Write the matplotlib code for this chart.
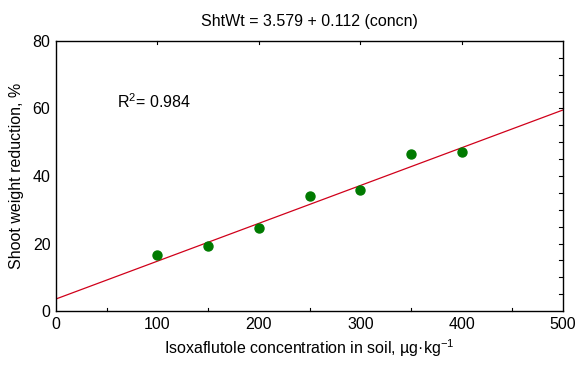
import matplotlib.pyplot as plt
import numpy as np
from matplotlib.ticker import MultipleLocator

plt.rcParams['font.family'] = ['Liberation Sans', 'DejaVu Sans']
plt.rcParams['mathtext.fontset'] = 'custom'
plt.rcParams['mathtext.rm'] = 'Liberation Sans'
plt.rcParams['mathtext.it'] = 'Liberation Sans:italic'

concn = [100, 150, 200, 250, 300, 350, 400]
shoot_wt = [16.6, 19.3, 24.6, 34.1, 35.9, 46.5, 47.1]

intercept = 3.579
slope = 0.112
line_x = np.array([0, 500])

fig = plt.figure(figsize=(5.83, 3.69), dpi=100)
ax = fig.add_axes([0.096, 0.157, 0.870, 0.732])

ax.plot(line_x, intercept + slope * line_x, color='#d0001a', lw=0.9)
ax.scatter(concn, shoot_wt, s=42, color='#007a00', zorder=3)

ax.set_xlim(0, 500)
ax.set_ylim(0, 80)
ax.xaxis.set_major_locator(MultipleLocator(100))
ax.yaxis.set_major_locator(MultipleLocator(20))
ax.tick_params(axis='both', which='major', length=0, labelsize=11.5, pad=4)

# small inward ticks: bottom at 50s, top at 100s, right every 5
for x in np.arange(50, 500, 100):
    ax.plot([x, x], [0, 0.8], color='k', lw=0.8, clip_on=False)
for x in np.arange(100, 500, 100):
    ax.plot([x, x], [80, 79.2], color='k', lw=0.8, clip_on=False)
for y in np.arange(5, 80, 5):
    ax.plot([500, 496], [y, y], color='k', lw=0.8, clip_on=False)

for s in ax.spines.values():
    s.set_linewidth(1.0)

ax.set_title('ShtWt = 3.579 + 0.112 (concn)', fontsize=11.5, pad=11)
ax.set_xlabel('Isoxaflutole concentration in soil, µg·kg$^{\\mathrm{-1}}$', fontsize=11.5, labelpad=4)
ax.set_ylabel('Shoot weight reduction, %', fontsize=11.5, labelpad=6)
ax.text(60, 62, 'R$^{\\mathrm{2}}$= 0.984', fontsize=11.5, va='center', ha='left')

fig.savefig('out.png', dpi=100)
